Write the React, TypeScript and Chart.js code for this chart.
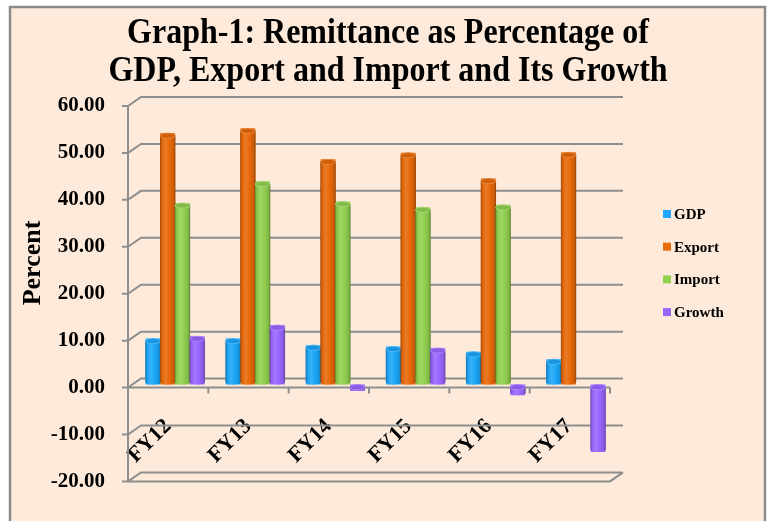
import React, { useEffect, useRef } from "react";
import { Chart, registerables } from "chart.js";

Chart.register(...registerables);

// ---- data ----
const categories = ["FY12", "FY13", "FY14", "FY15", "FY16", "FY17"];
const seriesNames = ["GDP", "Export", "Import", "Growth"];
const gdpPct = [9.8, 9.8, 8.4, 8.1, 7.0, 5.4];
const exportPct = [53.6, 54.6, 48.0, 49.4, 43.9, 49.5];
const importPct = [38.7, 43.3, 39.0, 37.8, 38.3, null];
const growthPct = [10.3, 12.7, -1.4, 7.8, -2.3, -14.4];
const titleLines = ["Graph-1: Remittance as Percentage of", "GDP, Export and Import and Its Growth"];
const yAxisTitle = "Percent";
const yMin = -20;
const yMax = 60;
const yStep = 10;

// ---- styles ----
const SERIF = "'Liberation Serif', 'Times New Roman', Times, serif";
const colors = ["#1CA6F8", "#E8690A", "#92D050", "#9A66FF"];
const legendColors = ["#1FA8FF", "#E46C0A", "#92D050", "#9966FF"];
const GRID = "#8E8E8E";

function hexToRgb(h: string) {
  const n = parseInt(h.slice(1), 16);
  return [(n >> 16) & 255, (n >> 8) & 255, n & 255];
}
function mix(h: string, amt: number) {
  const [r, g, b] = hexToRgb(h);
  const t = amt < 0 ? 0 : 255;
  const a = Math.abs(amt);
  const f = (c: number) => Math.round(c + (t - c) * a);
  return `rgb(${f(r)},${f(g)},${f(b)})`;
}

const framePlugin = {
  id: "frame",
  beforeDraw(chart: any) {
    const { ctx, width, height } = chart;
    ctx.save();
    ctx.fillStyle = "#ffffff";
    ctx.fillRect(0, 0, width, height);
    ctx.fillStyle = "#FDEADA";
    ctx.fillRect(10, 7, 755, height);
    ctx.strokeStyle = "#8A8A8A";
    ctx.lineWidth = 2.5;
    ctx.strokeRect(10, 7, 755, height + 20);
    // title (slightly tall, as in the reference)
    ctx.fillStyle = "#000";
    ctx.textAlign = "center";
    ctx.textBaseline = "alphabetic";
    ctx.font = `bold 32px ${SERIF}`;
    [43, 81].forEach((by, i) => {
      ctx.save();
      ctx.translate(388, by);
      ctx.scale(1, 1.12);
      ctx.fillText(titleLines[i], 0, 0);
      ctx.restore();
    });
    // y axis title
    ctx.save();
    ctx.translate(33, 263);
    ctx.rotate(-Math.PI / 2);
    ctx.font = `bold 26px ${SERIF}`;
    ctx.textBaseline = "middle";
    ctx.fillText(yAxisTitle, 0, 0);
    ctx.restore();
    // legend
    ctx.font = `bold 15px ${SERIF}`;
    ctx.textAlign = "left";
    ctx.textBaseline = "middle";
    chart.data.datasets.forEach((ds: any, i: number) => {
      const cy = 214 + i * 32.7;
      ctx.fillStyle = legendColors[i];
      ctx.fillRect(663, cy - 4, 8, 8);
      ctx.fillStyle = "#000";
      ctx.fillText(ds.label, 674, cy + 1);
    });
    ctx.restore();
  },
};

const wallPlugin = {
  id: "wall",
  beforeDatasetsDraw(chart: any) {
    const { ctx, chartArea: ca } = chart;
    const y = chart.scales.y;
    const fL = ca.left - 7, fR = ca.right - 6, bL = ca.left + 6, bR = ca.right + 7;
    const dyB = -6, dyF = 3;
    ctx.save();
    ctx.strokeStyle = GRID;
    ctx.lineWidth = 2;
    ctx.beginPath();
    for (const t of y.ticks) {
      const p = y.getPixelForValue(t.value);
      ctx.moveTo(fL - 6, p + dyF);
      ctx.lineTo(fL, p + dyF);
      ctx.lineTo(bL, p + dyB);
      ctx.lineTo(bR, p + dyB);
    }
    ctx.moveTo(fL, y.getPixelForValue(yMax) + dyF);
    ctx.lineTo(fL, y.getPixelForValue(yMin) + dyF);
    const z = y.getPixelForValue(0) + dyF;
    ctx.moveTo(fL, z);
    ctx.lineTo(fR, z);
    const n = categories.length;
    const cw = (fR - fL) / n;
    for (let i = 1; i <= n; i++) {
      const xx = fL + cw * i;
      ctx.moveTo(xx, z);
      ctx.lineTo(xx, z + 6);
    }
    const f = y.getPixelForValue(yMin);
    ctx.moveTo(fL, f + dyF);
    ctx.lineTo(fR, f + dyF);
    ctx.lineTo(bR, f + dyB);
    ctx.stroke();
    ctx.restore();
  },
};

const cylinderPlugin = {
  id: "cylinders",
  afterDatasetsDraw(chart: any) {
    const { ctx } = chart;
    chart.data.datasets.forEach((ds: any, di: number) => {
      const meta = chart.getDatasetMeta(di);
      const c = colors[di];
      meta.data.forEach((el: any, i: number) => {
        const v = ds.data[i];
        if (v == null) return;
        const { x, y, base, width } = el.getProps(["x", "y", "base", "width"], true);
        const left = x - width / 2 - 0.3, right = x + width / 2 + 0.3;
        const ry = 2.6, rx = (right - left) / 2;
        const top = Math.min(y, base) + ry;
        const bot = Math.max(y, base) - ry;
        ctx.save();
        const g = ctx.createLinearGradient(left, 0, right, 0);
        g.addColorStop(0, mix(c, -0.32));
        g.addColorStop(0.12, mix(c, -0.05));
        g.addColorStop(0.35, mix(c, 0.12));
        g.addColorStop(0.6, c);
        g.addColorStop(0.88, mix(c, -0.12));
        g.addColorStop(1, mix(c, -0.38));
        ctx.beginPath();
        ctx.moveTo(left, top);
        ctx.lineTo(left, bot);
        ctx.ellipse(x, bot, rx, ry, 0, Math.PI, 0, true);
        ctx.lineTo(right, top);
        ctx.ellipse(x, top, rx, ry, 0, 0, Math.PI, true);
        ctx.closePath();
        ctx.fillStyle = g;
        ctx.fill();
        ctx.beginPath();
        ctx.ellipse(x, top, rx - 0.3, ry, 0, 0, Math.PI * 2);
        ctx.fillStyle = mix(c, -0.1);
        ctx.fill();
        ctx.strokeStyle = mix(c, 0.25);
        ctx.lineWidth = 0.8;
        ctx.stroke();
        ctx.restore();
      });
    });
  },
};

export default function App() {
  const ref = useRef<HTMLCanvasElement | null>(null);
  useEffect(() => {
    if (!ref.current) return;
    const series = [gdpPct, exportPct, importPct, growthPct];
    const chart = new Chart(ref.current, {
      type: "bar",
      data: {
        labels: categories,
        datasets: series.map((d, i) => ({
          label: seriesNames[i],
          data: d,
          backgroundColor: colors[i],
          borderWidth: 0,
          barPercentage: 1,
          categoryPercentage: 0.736,
        })),
      },
      options: {
        animation: false,
        responsive: false,
        maintainAspectRatio: false,
        events: [],
        layout: { padding: { left: 0, top: 103, right: 156, bottom: 42 } },
        plugins: {
          legend: { display: false },
          title: { display: false },
          tooltip: { enabled: false },
        },
        scales: {
          x: {
            position: { y: 0 },
            grid: { display: false, drawTicks: false },
            border: { display: false },
            ticks: {
              autoSkip: false,
              minRotation: 45,
              maxRotation: 45,
              padding: 29,
              labelOffset: -7,
              color: "#000",
              font: { family: SERIF, size: 22, weight: "bold" },
            },
            afterFit: (s: any) => {
              s.height = 0;
            },
          },
          y: {
            min: yMin,
            max: yMax,
            grid: { display: false, drawTicks: false },
            border: { display: false },
            ticks: {
              stepSize: yStep,
              padding: 30,
              labelOffset: 3,
              color: "#000",
              font: { family: SERIF, size: 21, weight: "bold" },
              callback: (v: any) => Number(v).toFixed(2),
            },
            afterFit: (s: any) => {
              s.width = 135;
            },
          },
        },
      } as any,
      plugins: [framePlugin, wallPlugin, cylinderPlugin],
    });
    return () => chart.destroy();
  }, []);
  return (
    <div style={{ position: "fixed", left: 0, top: 0, width: 772, height: 521 }}>
      <canvas ref={ref} width={772} height={521} style={{ width: 772, height: 521, display: "block" }} />
    </div>
  );
}
